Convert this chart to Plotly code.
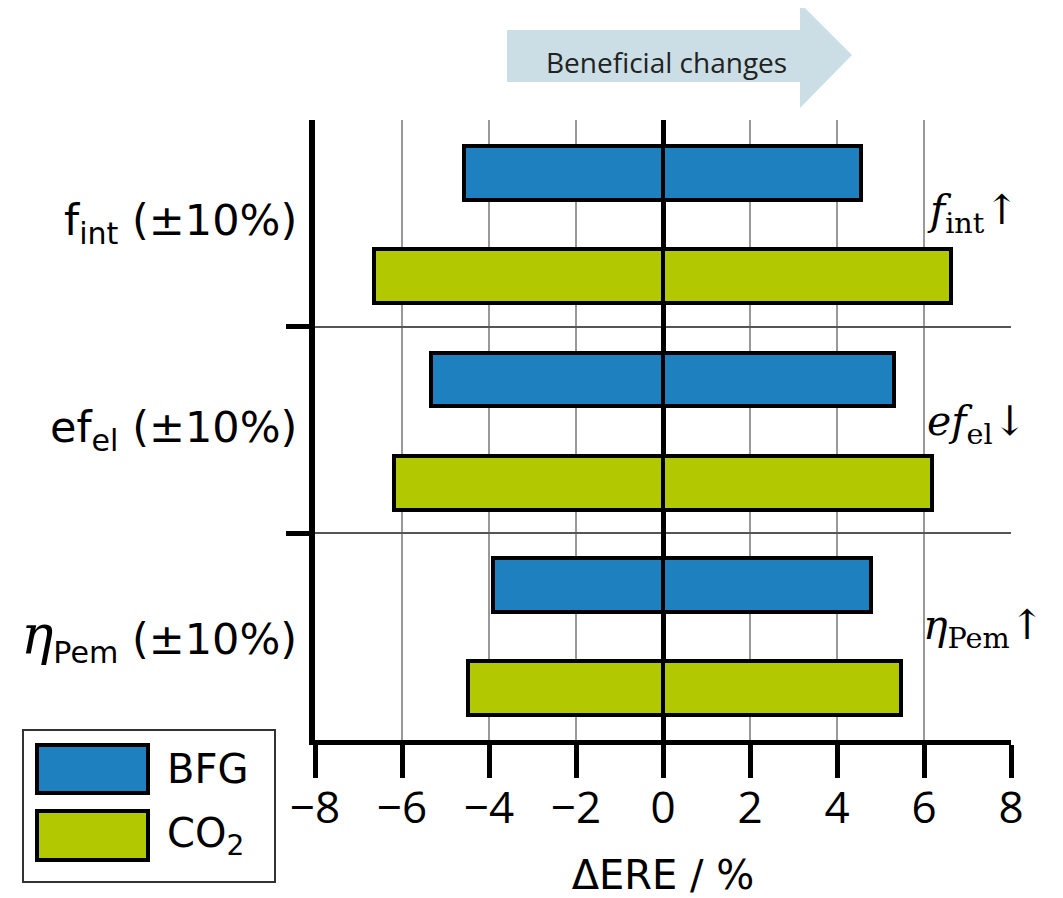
import plotly.graph_objects as go

# ---------------- data ----------------
parameters = ["f_int", "ef_el", "eta_Pem"]
bfg_low = [-4.57, -5.34, -3.90]
bfg_high = [4.55, 5.32, 4.77]
co2_low = [-6.64, -6.19, -4.49]
co2_high = [6.62, 6.18, 5.47]
bfg_pos = [2.745, 1.745, 0.75]
co2_pos = [2.245, 1.245, 0.25]
left_labels = ["f<sub>int</sub> (±10%)", "ef<sub>el</sub> (±10%)",
               "<span style='font-family:DejaVu Serif;font-size:54px'><i>η</i></span><sub>Pem</sub> (±10%)"]
label_pos = [2.5, 1.5, 0.5]
right_labels = ["<i>f</i><sub>int</sub>↑", "<i>ef</i><sub>el</sub>↓", "<i>η</i><sub>Pem</sub>↑"]
right_label_pos = [2.55, 1.53, 0.54]
x_ticks = [-8, -6, -4, -2, 0, 2, 4, 6, 8]
series_names = ["BFG", "CO<sub>2</sub>"]

BLUE = "#1f80c0"
GREEN = "#b2c800"
# page has an 8px body margin: figure is drawn offset by 8px
W, H = 1047, 890
L, T = 307, 112
PW, PH = 696, 620
R, B = W - L - PW, H - T - PH

# helpers converting photo pixel positions to paper coordinates
X0, Y0 = 315, 740


def px(x):
    return (x - X0) / PW


def py(y):
    return (Y0 - y) / PH


fig = go.Figure()
fig.add_trace(go.Bar(x=bfg_low + bfg_high, y=bfg_pos + bfg_pos, orientation="h", width=0.26,
                     marker=dict(color=BLUE, line=dict(color="black", width=4)),
                     name="BFG", showlegend=False))
fig.add_trace(go.Bar(x=co2_low + co2_high, y=co2_pos + co2_pos, orientation="h", width=0.26,
                     marker=dict(color=GREEN, line=dict(color="black", width=4)),
                     name="CO2", showlegend=False))

FONT = "Open Sans, Noto Sans, sans-serif"
WIDE = "DejaVu Sans, sans-serif"
SERIF = "DejaVu Serif, Liberation Serif, serif"

annotations = []
for t, yv in zip(left_labels, label_pos):
    annotations.append(dict(x=px(299), xref="paper", y=yv, yref="y", text=t, showarrow=False,
                            xanchor="right", yanchor="middle", font=dict(family=WIDE, size=43, color="black")))
for t, yv, xs in zip(right_labels, right_label_pos, [925, 925, 921]):
    annotations.append(dict(x=px(xs), xref="paper", y=yv, yref="y", text=t, showarrow=False,
                            xanchor="left", yanchor="middle", font=dict(family=SERIF, size=41, color="black")))

# arrow "Beneficial changes"
arrow_path = ("M {0},{1} L {2},{1} L {2},{3} L {4},{5} L {2},{6} L {2},{7} L {0},{7} Z").format(
    px(507), py(30), px(800), py(3), px(852), py(55), py(108), py(82))
shapes = [dict(type="path", path=arrow_path, xref="paper", yref="paper",
               fillcolor="#cbdee5", line=dict(width=0), layer="below")]
annotations.append(dict(x=px(666), y=py(62), xref="paper", yref="paper", text="Beneficial changes",
                        showarrow=False, xanchor="center", yanchor="middle",
                        font=dict(family=FONT, size=28, color="#222")))

# custom legend
shapes.append(dict(type="rect", xref="paper", yref="paper", x0=px(23), x1=px(275), y0=py(730), y1=py(882),
                   line=dict(color="#333", width=2), fillcolor="white"))
for (y0, y1), col, name in zip([(745, 793), (811, 860)], [BLUE, GREEN], series_names):
    shapes.append(dict(type="rect", xref="paper", yref="paper", x0=px(37), x1=px(148), y0=py(y0), y1=py(y1),
                       line=dict(color="black", width=4), fillcolor=col))
    annotations.append(dict(x=px(165), y=py((y0 + y1) / 2), xref="paper", yref="paper", text=name,
                            showarrow=False, xanchor="left", yanchor="middle",
                            font=dict(family=WIDE, size=40, color="black")))

fig.update_layout(
    width=W, height=H, autosize=False,
    margin=dict(l=L, r=R, t=T, b=B, pad=0),
    plot_bgcolor="white", paper_bgcolor="white",
    barmode="overlay", bargap=0,
    showlegend=False,
    shapes=shapes, annotations=annotations,
    xaxis=dict(range=[-8, 8], tickvals=x_ticks, ticks="outside", ticklen=33, tickwidth=5,
               tickcolor="black", showline=True, linewidth=5, linecolor="black",
               showgrid=True, gridcolor="#999999", gridwidth=2,
               zeroline=True, zerolinecolor="black", zerolinewidth=5,
               ticklabelstandoff=-8, automargin=False,
               tickfont=dict(family=FONT, size=44, color="black"),
               title=dict(text="ΔERE / %", font=dict(family=WIDE, size=40, color="black"), standoff=32)),
    yaxis=dict(range=[0, 3], tickvals=[1, 2], ticks="outside", ticklen=23, tickwidth=5,
               tickcolor="black", showticklabels=False, showline=True, linewidth=6, linecolor="black",
               showgrid=True, gridcolor="#555555", gridwidth=2, zeroline=False, automargin=False),
)

fig.write_html("out.html")
